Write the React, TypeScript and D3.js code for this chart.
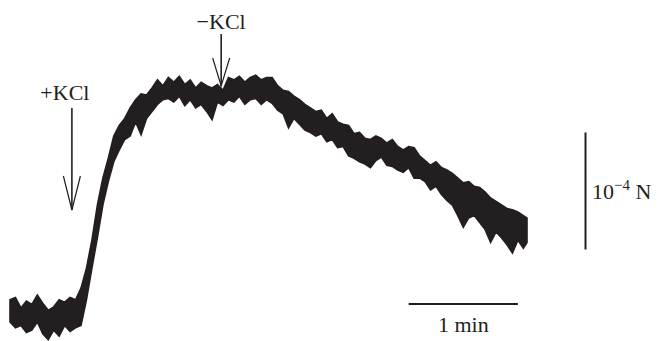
import { useEffect, useRef } from "react";
import * as d3 from "d3";

// sample times (s)
const times = [
  0, 3, 6, 9, 12, 15, 18, 21, 24, 27, 30, 33, 36, 39, 42, 45, 48, 51, 54, 57,
  60, 63, 66, 69, 72, 75, 78, 81, 84, 87, 90, 93, 96, 99, 102, 105, 108, 111,
  114, 117, 120, 123, 126, 129, 132, 135, 138, 141, 144, 147, 150, 153, 156,
  159, 162, 165, 168, 171, 174, 177, 180, 183, 186, 189, 192, 195, 198, 201,
  204, 207, 210, 213, 216, 219, 222, 225, 228, 231, 234, 237, 240, 243, 246,
  249, 252, 255, 258, 261, 264, 267, 270, 273, 276, 279, 282, 284,
];

// noisy force trace, upper and lower edge of the band (µN above baseline)
const upper = [
  13, 15, 6, 12, 9, 17, 10, 4, 7, 13, 11, 15, 13, 23, 40, 64, 94, 117, 134, 153,
  162, 168, 177, 184, 189, 188, 194, 201, 196, 203, 199, 204, 197, 201, 194,
  199, 196, 194, 197, 192, 203, 201, 204, 199, 203, 205, 201, 203, 203, 196,
  192, 191, 187, 184, 180, 177, 174, 175, 168, 172, 165, 163, 162, 155, 156,
  151, 150, 153, 151, 147, 150, 144, 141, 144, 143, 136, 132, 128, 131, 126,
  124, 121, 117, 113, 114, 110, 109, 105, 100, 97, 94, 91, 90, 88, 85, 83,
];
const lower = [
  -6, -11, -9, -15, -13, -6, -16, -21, -13, -18, -9, -14, -11, -9, 13, 40, 66,
  94, 114, 131, 141, 150, 153, 165, 154, 168, 174, 180, 184, 185, 182, 187,
  179, 184, 177, 180, 174, 167, 182, 179, 184, 182, 187, 180, 184, 185, 180,
  184, 181, 175, 172, 160, 168, 163, 158, 156, 153, 155, 148, 150, 143, 144,
  136, 134, 131, 129, 126, 132, 135, 128, 127, 124, 122, 126, 117, 117, 114,
  107, 110, 103, 98, 94, 85, 75, 83, 85, 79, 73, 62, 71, 66, 60, 53, 64, 57, 62,
];

const stimuli = [
  { label: "+KCl", time: 34 },
  { label: "\u2212KCl", time: 116 },
];

// scale bars
const timeBar = { start: 219, length: 60, label: "1 min" };
const forceBar = { start: 56, length: 100 }; // 100 µN = 10^-4 N

function App() {
  const svgRef = useRef();

  useEffect(() => {
    const width = 659;
    const height = 341;
    const ink = "#231f20";
    const font = "'Liberation Serif', 'Times New Roman', serif";

    d3.select(svgRef.current).selectAll("*").remove();

    const svg = d3
      .select(svgRef.current)
      .attr("viewBox", `0 0 ${width} ${height}`)
      .attr("width", width)
      .attr("height", height);

    const x = d3.scaleLinear().domain([0, 284]).range([10, 527]);
    const y = d3.scaleLinear().domain([0, 100]).range([315, 198]);

    const band = times.map((t, i) => ({ t, hi: upper[i], lo: lower[i] }));

    svg
      .append("path")
      .datum(band)
      .attr("fill", ink)
      .attr("stroke", ink)
      .attr("stroke-width", 1.6)
      .attr("stroke-linejoin", "miter")
      .attr(
        "d",
        d3
          .area()
          .x((d) => x(d.t))
          .y0((d) => y(d.lo))
          .y1((d) => y(d.hi))
      );

    // stimulus arrows
    const arrowLayout = [
      { textY: 100, dx: -7, top: 108, bottom: 210, head: 34 },
      { textY: 29, dx: 0, top: 34, bottom: 86, head: 28 },
    ];
    stimuli.forEach((s, i) => {
      const a = arrowLayout[i];
      const cx = x(s.time);
      const g = svg.append("g").attr("stroke", ink).attr("fill", "none");
      g.append("line")
        .attr("x1", cx)
        .attr("x2", cx)
        .attr("y1", a.top)
        .attr("y2", a.bottom)
        .attr("stroke-width", 1.6);
      g.append("path")
        .attr("stroke-width", 1.2)
        .attr(
          "d",
          `M${cx - 8.5},${a.bottom - a.head}L${cx},${a.bottom}L${cx + 8.5},${a.bottom - a.head}`
        );
      svg
        .append("text")
        .attr("x", cx + a.dx)
        .attr("y", a.textY)
        .attr("text-anchor", "middle")
        .style("font-family", font)
        .style("font-size", "22px")
        .style("fill", ink)
        .text(s.label);
    });

    // time scale bar
    svg
      .append("line")
      .attr("x1", x(timeBar.start))
      .attr("x2", x(timeBar.start + timeBar.length))
      .attr("y1", 304)
      .attr("y2", 304)
      .attr("stroke", ink)
      .attr("stroke-width", 2);
    svg
      .append("text")
      .attr("x", x(timeBar.start + timeBar.length / 2))
      .attr("y", 332)
      .attr("text-anchor", "middle")
      .style("font-family", font)
      .style("font-size", "22px")
      .style("fill", ink)
      .text(timeBar.label);

    // force scale bar
    svg
      .append("line")
      .attr("x1", 585.5)
      .attr("x2", 585.5)
      .attr("y1", y(forceBar.start))
      .attr("y2", y(forceBar.start + forceBar.length))
      .attr("stroke", ink)
      .attr("stroke-width", 2);
    const lbl = svg
      .append("text")
      .attr("x", 592)
      .attr("y", y(forceBar.start + forceBar.length / 2) + 8)
      .style("font-family", font)
      .style("font-size", "22px")
      .style("fill", ink);
    lbl.append("tspan").text("10");
    lbl
      .append("tspan")
      .attr("dy", -9)
      .style("font-size", "15px")
      .text("\u22124");
    lbl.append("tspan").attr("dy", 9).text(" N");
  }, []);

  return (
    <div style={styles.wrap}>
      <svg ref={svgRef}></svg>
    </div>
  );
}

export default App;

const styles = {
  wrap: { position: "absolute", left: 0, top: 0 },
};
